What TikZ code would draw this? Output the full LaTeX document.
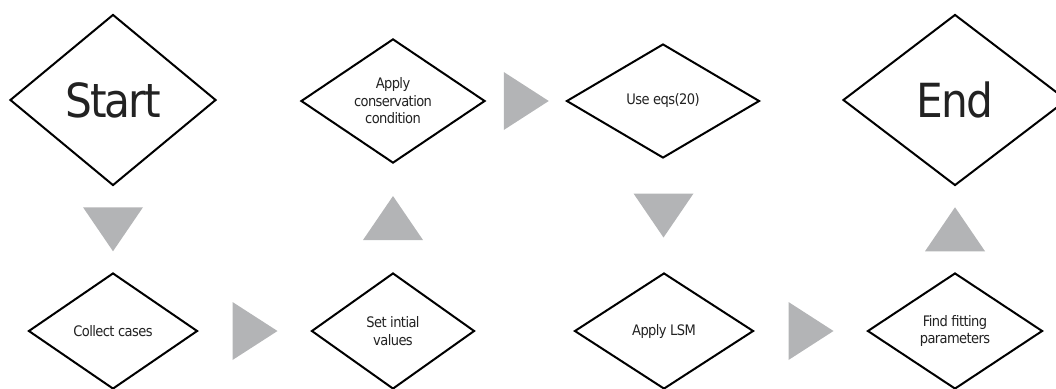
\documentclass[tikz,border=0pt]{standalone}
\usepackage{fontspec}
\setmainfont{DejaVu Sans Condensed}[LetterSpace=-4]
\usetikzlibrary{shapes.geometric, calc}
\definecolor{triGray}{HTML}{B3B4B6}
\definecolor{txtGray}{HTML}{222222}

\begin{document}
\begin{tikzpicture}[x=1pt, y=-1pt,
  decision/.style={diamond, draw=black, line width=2pt, fill=white, inner sep=0pt,
    align=center, text=txtGray, font=\fontsize{14.5}{17.5}\selectfont},
  bigdecision/.style={decision, font=\fontsize{47}{50}\selectfont},
  tri/.style={fill=triGray}]
  \useasboundingbox (0,0) rectangle (1056,388);

  % top row
  \node[bigdecision, minimum width=206pt, minimum height=171pt] (start) at (113,100) {Start};
  \node[decision, minimum width=184pt, minimum height=114pt] (conserve) at (393,101) {Apply\\conservation\\condition};
  \node[decision, minimum width=193pt, minimum height=114pt] (eqs) at (663,101) {Use eqs(20)};
  \node[bigdecision, minimum width=224pt, minimum height=171pt] (finish) at (955,100) {End};

  % bottom row
  \node[decision, minimum width=169pt, minimum height=116pt] (collect) at (113,331) {Collect cases};
  \node[decision, minimum width=163pt, minimum height=116pt] (initial) at (393,331) {Set intial\\values};
  \node[decision, minimum width=179pt, minimum height=116pt] (lsm) at (664,331) {Apply LSM};
  \node[decision, minimum width=175pt, minimum height=116pt] (fitting) at (955,331) {Find fitting\\parameters};

  % flow arrows
  \fill[tri] ($(start.south)!0.5!(collect.north)$) +(-30,-22) -- +(30,-22) -- +(0,22) -- cycle;
  \fill[tri] ($(collect.east)!0.5!(initial.west)$) +(-22,-29) -- +(-22,29) -- +(23,0) -- cycle;
  \fill[tri] ($(initial.north)!0.5!(conserve.south)$) +(-30,22) -- +(30,22) -- +(0,-22) -- cycle;
  \fill[tri] ($(conserve.east)!0.5!(eqs.west)$) +(-22,-29) -- +(-22,29) -- +(23,0) -- cycle;
  \fill[tri] ($(eqs.south)!0.5!(lsm.north)$) +(-30,-22) -- +(30,-22) -- +(0,22) -- cycle;
  \fill[tri] ($(lsm.east)!0.5!(fitting.west)$) +(-22,-29) -- +(-22,29) -- +(23,0) -- cycle;
  \fill[tri] ($(fitting.north)!0.5!(finish.south)$) +(-30,22) -- +(30,22) -- +(0,-22) -- cycle;
\end{tikzpicture}
\end{document}
